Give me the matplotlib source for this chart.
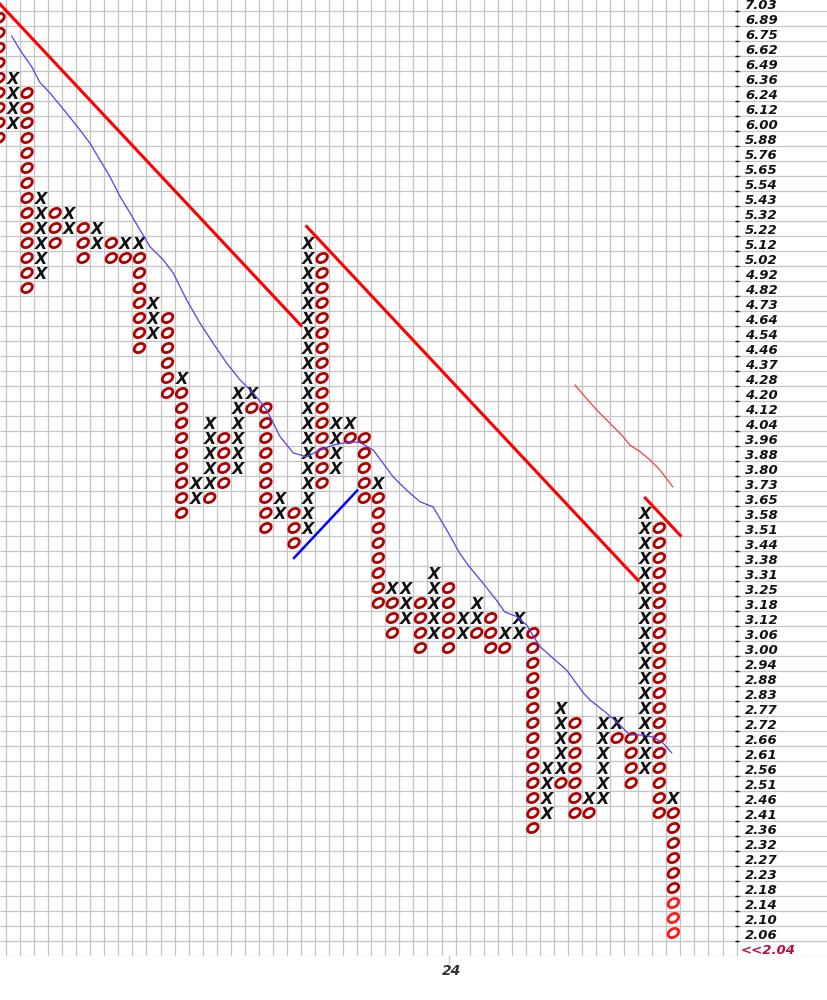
import matplotlib.pyplot as plt
from matplotlib.patches import Ellipse

# price scale (one row per box), top to bottom
boxes = [7.03, 6.89, 6.75, 6.62, 6.49, 6.36, 6.24, 6.12, 6.00, 5.88,
         5.76, 5.65, 5.54, 5.43, 5.32, 5.22, 5.12, 5.02, 4.92, 4.82,
         4.73, 4.64, 4.54, 4.46, 4.37, 4.28, 4.20, 4.12, 4.04, 3.96,
         3.88, 3.80, 3.73, 3.65, 3.58, 3.51, 3.44, 3.38, 3.31, 3.25,
         3.18, 3.12, 3.06, 3.00, 2.94, 2.88, 2.83, 2.77, 2.72, 2.66,
         2.61, 2.56, 2.51, 2.46, 2.41, 2.36, 2.32, 2.27, 2.23, 2.18,
         2.14, 2.10, 2.06]
below_label = "<<2.04"

# each column: price of its top box and the boxes reading downwards
# (lowercase o = latest boxes, drawn brighter)
col_top = [6.89, 6.36, 6.24, 5.43, 5.32, 5.32, 5.22, 5.22, 5.12, 5.12,
           5.12, 4.73, 4.64, 4.28, 3.73, 4.04, 3.96, 4.20, 4.20, 4.12,
           3.65, 3.58, 5.12, 5.02, 4.04, 4.04, 3.96, 3.73, 3.25, 3.25,
           3.18, 3.31, 3.25, 3.12, 3.18, 3.12, 3.06, 3.12, 3.06, 2.56,
           2.77, 2.72, 2.46, 2.72, 2.72, 2.66, 3.58, 3.51, 2.46]
col_marks = ["OOOOOOOOO", "XXXX", "OOOOOOOOOOOOOO", "XXXXXX", "OOO",
             "XX", "OOO", "XX", "OO", "XO",
             "XOOOOOOO", "XXX", "OOOOOO", "XOOOOOOOOO", "XX",
             "XXXXXO", "OOOO", "XXXXXX", "XO", "OOOOOOOOO",
             "XX", "OOO", "XXXXXXXXXXXXXXXXXXXX", "OOOOOOOOOOOOOOOO", "XXXX",
             "XO", "OOOOO", "XOOOOOOOO", "XOOO", "XXX",
             "OOOO", "XXXXX", "OOOOO", "XX", "XXO",
             "OOO", "XO", "XX", "OOOOOOOOOOOOOO", "XXXX",
             "XXXXXO", "OOOOOOO", "XO", "XXXXXX", "XO",
             "OOOO", "XXXXXXXXXXXXXXXXXX", "OOOOOOOOOOOOOOOOOOOO", "XOOOOOOooo"]
first_col = -1

# trend lines, in (column, box row) units
down1_c, down1_r = [-1.0, 20.5], [0.0, 21.5]
down2_c, down2_r = [20.9, 44.5], [14.9, 38.5]
down3_c, down3_r = [45.0, 47.5], [33.0, 35.5]
up1_c, up1_r = [20.0, 24.5], [37.0, 32.5]

# moving average (thin blue) and short thin red line
ma_c = [-0.09, 0.5, 1.33, 1.92, 2.63, 3.82, 4.77, 5.48, 6.19, 6.9, 7.62, 8.33,
        9.04, 9.75, 10.7, 11.4, 12.36, 13.31, 14.26, 15.2, 16.16, 17.1, 18.06,
        19.0, 19.95, 20.9, 21.85, 22.8, 24.0, 24.7, 25.64, 26.35, 27.07, 28.0,
        28.97, 29.9, 30.87, 31.8, 32.5, 33.47, 34.4, 35.0, 35.85, 36.56, 37.5,
        38.46, 39.4, 40.6, 41.07, 42.26, 43.2, 43.9, 44.86, 45.57, 46.28, 46.88]
ma_r = [2.2, 3.13, 4.25, 5.3, 6.0, 7.35, 8.47, 9.35, 10.47, 11.58, 12.9, 14.0,
        15.13, 16.25, 17.13, 18.0, 19.8, 21.35, 22.7, 24.0, 25.13, 26.0, 27.13,
        28.9, 30.0, 30.25, 29.8, 29.47, 29.25, 29.3, 29.8, 30.7, 31.6, 32.47,
        33.25, 33.6, 35.13, 36.7, 37.6, 38.7, 39.8, 40.6, 40.9, 41.47, 42.9,
        43.7, 44.47, 46.0, 46.47, 47.35, 48.13, 48.8, 48.8, 48.95, 49.35, 49.98]
red_c = [40.0, 40.71, 41.54, 42.49, 43.32, 43.91, 44.63, 45.34, 46.05, 46.95]
red_r = [25.47, 26.25, 27.13, 28.02, 28.8, 29.47, 29.91, 30.47, 31.13, 32.25]

date_label, date_col = "24", 31

n_cells = 52
fig = plt.figure(figsize=(8.27, 10), dpi=100)
ax = fig.add_axes([0, 1 - 0.9555, 1, 0.9555])
x0, x1 = -13 / 14.05, (827 - 13) / 14.05
nrows = len(boxes)
ax.set_xlim(x0, x1)
ax.set_ylim(nrows + 0.5, nrows + 0.5 - 955.5 / 15)
ax.axis('off')

grid = '#c4c4c4'
ax.vlines([j - 0.5 for j in range(n_cells + 1)], -1, nrows + 0.5, color=grid, lw=0.9, zorder=1)
ax.hlines([r + 0.5 for r in range(-1, nrows + 1)], x0, x1, color=grid, lw=0.9, zorder=1)

# scale on the right
ax.hlines([r + 0.5 for r in range(-1, nrows)], n_cells - 0.64, n_cells - 0.36,
          color='black', lw=1, zorder=2)
for r, b in enumerate(boxes):
    ax.text(n_cells + 0.1, r + 0.17, f"{b:.2f}", ha='left', va='center', fontsize=9.5,
            fontweight='bold', fontstyle='italic', color='#111111')
ax.text(n_cells - 0.2, nrows + 0.17, below_label, ha='left', va='center', fontsize=9.5,
        fontweight='bold', fontstyle='italic', color='#b80c40')

# x and o boxes
for i, (top, marks) in enumerate(zip(col_top, col_marks)):
    x = first_col + i
    r0 = boxes.index(top)
    for k, m in enumerate(marks):
        r = r0 + k
        if m == 'X':
            ax.text(x, r + 0.03, 'X', ha='center', va='center_baseline', fontsize=11.5,
                    fontweight='bold', fontstyle='italic', color='#111111', zorder=3)
        else:
            col = '#ff1a1a' if m == 'o' else '#b00000'
            ax.add_patch(Ellipse((x, r), 0.8, 0.55, angle=-28, fill=False,
                                 ec=col, lw=2.0, zorder=3))

ax.plot(down1_c, down1_r, color='#ff0000', lw=2.2, zorder=4)
ax.plot(down2_c, down2_r, color='#ff0000', lw=2.2, zorder=4)
ax.plot(down3_c, down3_r, color='#ff0000', lw=2.2, zorder=4)
ax.plot(up1_c, up1_r, color='#0000ff', lw=1.8, zorder=4)
ax.plot(ma_c, ma_r, color='#5a3cf0', lw=0.9, zorder=4)
ax.plot(red_c, red_r, color='#ff3a3a', lw=0.9, zorder=4)

ax.plot([date_col, date_col], [nrows + 0.5, nrows + 1.0], color=grid, lw=0.9, clip_on=False)
ax.text(date_col + 0.2, nrows + 1.55, date_label, ha='center', va='center', fontsize=10,
        fontweight='bold', fontstyle='italic', color='#333333', clip_on=False)

fig.savefig('out.png', dpi=100)
